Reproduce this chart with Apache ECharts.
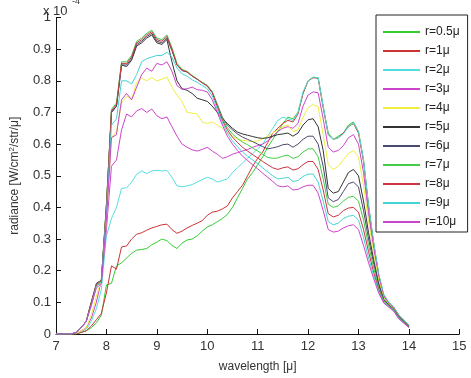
<!DOCTYPE html>
<html><head><meta charset="utf-8">
<script src="https://cdn.jsdelivr.net/npm/echarts@6/dist/echarts.min.js"></script>
<style>html,body{margin:0;padding:0;background:#fff}#c{width:471px;height:378px}</style>
</head><body><div id="c"></div>
<script>
const wavelength = [7.0,7.1,7.2,7.3,7.4,7.5,7.6,7.7,7.8,7.9,8.0,8.1,8.2,8.3,8.4,8.5,8.6,8.7,8.8,8.9,9.0,9.1,9.2,9.3,9.4,9.5,9.6,9.7,9.8,9.9,10.0,10.1,10.2,10.3,10.4,10.5,10.6,10.7,10.8,10.9,11.0,11.1,11.2,11.3,11.4,11.5,11.6,11.7,11.8,11.9,12.0,12.1,12.2,12.3,12.4,12.5,12.6,12.7,12.8,12.9,13.0,13.1,13.2,13.3,13.4,13.5,13.6,13.7,13.8,13.9,14.0];
const seriesNames = ['r=0.5\u03bc','r=1\u03bc','r=2\u03bc','r=3\u03bc','r=4\u03bc','r=5\u03bc','r=6\u03bc','r=7\u03bc','r=8\u03bc','r=9\u03bc','r=10\u03bc'];
const r05 = [0,0,0,0,0,0.005,0.01,0.02,0.035,0.06, 0.155,0.16,0.215,0.225,0.24,0.255,0.265,0.267,0.27,0.282, 0.29,0.30,0.295,0.28,0.27,0.287,0.297,0.30,0.31,0.325, 0.338,0.345,0.355,0.365,0.378,0.40,0.43,0.46,0.49,0.51, 0.535,0.56,0.59,0.615,0.64,0.665,0.685,0.68,0.70,0.76, 0.80,0.81,0.81,0.72,0.635,0.615,0.625,0.635,0.66,0.67, 0.64,0.55,0.41,0.29,0.19,0.125,0.10,0.085,0.06,0.045,0.028];
const r1 = [0,0,0,0,0,0.005,0.01,0.025,0.045,0.065, 0.13,0.215,0.205,0.275,0.278,0.30,0.315,0.32,0.328,0.335, 0.34,0.345,0.347,0.33,0.318,0.325,0.335,0.343,0.35,0.358, 0.375,0.385,0.388,0.395,0.405,0.43,0.45,0.47,0.50,0.53, 0.555,0.575,0.605,0.635,0.65,0.665,0.675,0.67,0.695,0.76, 0.80,0.81,0.808,0.715,0.63,0.615,0.62,0.635,0.655,0.665, 0.635,0.545,0.40,0.285,0.185,0.12,0.095,0.08,0.058,0.042,0.026];
const r2 = [0,0,0,0,0.003,0.008,0.015,0.04,0.08,0.14, 0.31,0.365,0.40,0.46,0.462,0.48,0.505,0.515,0.507,0.515, 0.517,0.515,0.517,0.495,0.468,0.465,0.468,0.472,0.48,0.488, 0.495,0.49,0.48,0.485,0.49,0.51,0.525,0.54,0.555,0.57, 0.585,0.60,0.625,0.65,0.675,0.685,0.68,0.675,0.70,0.765, 0.80,0.812,0.81,0.72,0.63,0.615,0.62,0.632,0.655,0.667, 0.64,0.55,0.405,0.29,0.19,0.125,0.10,0.085,0.06,0.045,0.028];
const r3 = [0,0,0,0,0.003,0.01,0.02,0.05,0.10,0.17, 0.33,0.53,0.55,0.645,0.695,0.686,0.705,0.712,0.70,0.711, 0.69,0.68,0.686,0.655,0.625,0.60,0.59,0.582,0.578,0.583, 0.59,0.578,0.568,0.555,0.56,0.568,0.573,0.578,0.583,0.59, 0.595,0.60,0.61,0.625,0.64,0.65,0.655,0.65,0.665,0.72, 0.755,0.765,0.762,0.68,0.59,0.575,0.58,0.595,0.62,0.63, 0.60,0.51,0.38,0.27,0.18,0.12,0.097,0.083,0.058,0.042,0.026];
const r4 = [0,0,0,0,0.003,0.01,0.02,0.06,0.12,0.17, 0.36,0.62,0.64,0.73,0.752,0.74,0.795,0.808,0.80,0.81, 0.80,0.805,0.812,0.78,0.755,0.735,0.70,0.698,0.695,0.67, 0.665,0.67,0.66,0.65,0.636,0.625,0.615,0.612,0.61,0.608, 0.61,0.617,0.625,0.635,0.645,0.655,0.66,0.64,0.645,0.685, 0.715,0.725,0.718,0.63,0.535,0.52,0.53,0.55,0.57,0.58, 0.56,0.47,0.355,0.255,0.17,0.115,0.095,0.08,0.056,0.04,0.025];
const r5 = [0,0,0,0,0.005,0.02,0.04,0.10,0.16,0.17, 0.40,0.70,0.72,0.85,0.845,0.865,0.91,0.92,0.935,0.945, 0.92,0.915,0.93,0.86,0.80,0.775,0.77,0.76,0.745,0.74, 0.735,0.72,0.70,0.68,0.665,0.65,0.638,0.632,0.628,0.624, 0.62,0.618,0.62,0.625,0.63,0.632,0.635,0.625,0.635,0.66, 0.677,0.68,0.655,0.58,0.46,0.445,0.45,0.48,0.51,0.52, 0.50,0.42,0.32,0.235,0.16,0.11,0.093,0.078,0.055,0.04,0.024];
const r6 = [0,0,0,0,0.005,0.02,0.04,0.10,0.155,0.17, 0.41,0.70,0.72,0.85,0.85,0.87,0.915,0.925,0.94,0.95, 0.925,0.92,0.935,0.895,0.85,0.832,0.828,0.815,0.805,0.795, 0.785,0.765,0.725,0.685,0.66,0.645,0.632,0.622,0.615,0.608, 0.60,0.592,0.585,0.588,0.592,0.598,0.60,0.59,0.60,0.615, 0.625,0.625,0.60,0.53,0.43,0.418,0.425,0.45,0.475,0.48, 0.465,0.39,0.30,0.225,0.155,0.108,0.092,0.077,0.054,0.038,0.023];
const r7 = [0,0,0,0,0.005,0.02,0.04,0.10,0.155,0.17, 0.41,0.71,0.73,0.86,0.86,0.88,0.925,0.935,0.95,0.96, 0.935,0.93,0.945,0.905,0.855,0.836,0.83,0.817,0.806,0.795, 0.785,0.765,0.722,0.68,0.652,0.632,0.618,0.606,0.598,0.588, 0.578,0.568,0.558,0.555,0.556,0.562,0.565,0.555,0.56,0.575, 0.585,0.585,0.56,0.49,0.41,0.40,0.405,0.42,0.432,0.435, 0.42,0.36,0.28,0.21,0.145,0.105,0.09,0.076,0.052,0.037,0.022];
const r8 = [0,0,0,0,0.005,0.02,0.04,0.10,0.155,0.17, 0.40,0.705,0.725,0.855,0.855,0.875,0.92,0.93,0.945,0.955, 0.93,0.925,0.94,0.90,0.85,0.834,0.828,0.815,0.805,0.793, 0.783,0.762,0.718,0.675,0.645,0.622,0.605,0.59,0.578,0.567, 0.556,0.545,0.535,0.525,0.52,0.525,0.528,0.518,0.522,0.535, 0.545,0.545,0.52,0.455,0.38,0.37,0.375,0.39,0.398,0.40, 0.385,0.33,0.26,0.195,0.14,0.10,0.088,0.074,0.05,0.036,0.021];
const r9 = [0,0,0,0,0.005,0.02,0.04,0.09,0.15,0.165, 0.38,0.66,0.68,0.80,0.80,0.79,0.82,0.86,0.87,0.875, 0.88,0.88,0.89,0.875,0.84,0.822,0.815,0.803,0.795,0.785, 0.775,0.752,0.71,0.668,0.635,0.61,0.592,0.575,0.562,0.55, 0.538,0.525,0.512,0.50,0.49,0.492,0.495,0.482,0.485,0.498, 0.505,0.505,0.48,0.42,0.355,0.345,0.35,0.365,0.372,0.375, 0.36,0.305,0.24,0.185,0.135,0.10,0.087,0.073,0.05,0.035,0.02];
const r10 = [0,0,0,0,0.005,0.02,0.04,0.09,0.145,0.16, 0.36,0.62,0.63,0.74,0.76,0.74,0.78,0.82,0.84,0.83, 0.855,0.85,0.86,0.83,0.785,0.773,0.775,0.78,0.772,0.77, 0.765,0.74,0.70,0.66,0.625,0.60,0.58,0.562,0.548,0.535, 0.522,0.508,0.495,0.482,0.468,0.465,0.468,0.455,0.457,0.465, 0.47,0.47,0.445,0.39,0.33,0.322,0.325,0.335,0.342,0.345, 0.33,0.28,0.225,0.175,0.13,0.098,0.085,0.072,0.048,0.034,0.02];
const allValues = [r05,r1,r2,r3,r4,r5,r6,r7,r8,r9,r10];
const colors = ['#33cc33','#cc3333','#55dddd','#cc44cc','#eeee44','#333333','#4a4a6e','#44cc44','#cc3344','#44d4d4','#cc44cc'];
const xTicks = [7,8,9,10,11,12,13,14,15];
const yTicks = [0,0.1,0.2,0.3,0.4,0.5,0.6,0.7,0.8,0.9,1];

const chart = echarts.init(document.getElementById('c'), null, {renderer:'canvas'});
const FONT = 'Liberation Sans, Arial, sans-serif';
const series = allValues.map((vals,i)=>({
  name: seriesNames[i], type:'line', symbol:'none', showSymbol:false, animation:false,
  data: vals.map((v,j)=>[wavelength[j], v]),
  lineStyle:{width:1, color:colors[i]}, itemStyle:{color:colors[i]}
}));
chart.setOption({
  animation:false,
  backgroundColor:'#fff',
  grid:{left:44.7, right:11.7, top:17.5, bottom:34.5, containLabel:false},
  xAxis:{type:'value', min:7, max:15, interval:1,
    name:'wavelength [\u03bc]', nameLocation:'middle', nameGap:27,
    nameTextStyle:{fontFamily:FONT, fontSize:12, color:'#333'},
    axisLine:{lineStyle:{color:'#111', width:1}},
    axisTick:{inside:true, length:5, lineStyle:{color:'#111'}},
    axisLabel:{fontFamily:FONT, fontSize:13, color:'#333', margin:6},
    splitLine:{show:false}},
  yAxis:{type:'value', min:0, max:1, interval:0.1,
    name:'radiance [W/cm{sup|2}/str/\u03bc]', nameLocation:'middle', nameGap:34,
    nameTextStyle:{fontFamily:FONT, fontSize:12, color:'#333', rich:{sup:{fontSize:8, verticalAlign:'bottom', padding:[0,0,6,0], fontFamily:FONT, color:'#333'}}},
    axisLine:{show:true, lineStyle:{color:'#111', width:1}},
    axisTick:{show:true, inside:true, length:5, lineStyle:{color:'#111'}},
    axisLabel:{fontFamily:FONT, fontSize:13, color:'#333', margin:5,
      formatter:v=>{const r=Math.round(v*10)/10; return r===0?'0':(r===1?'1':r.toFixed(1));}},
    splitLine:{show:false}},
  legend:{orient:'vertical', left:376, top:15, padding:[10,8,3,7], itemGap:5,
    itemWidth:37, itemHeight:2, icon:'rect',
    backgroundColor:'#fff', borderColor:'#222', borderWidth:1,
    textStyle:{fontFamily:FONT, fontSize:12, color:'#222', lineHeight:14},
    data:seriesNames},
  graphic:[
    {type:'text', left:43, top:5, style:{text:'x 10', font:'13px '+FONT, fill:'#333'}},
    {type:'text', left:72, top:-3, style:{text:'-4', font:'9px '+FONT, fill:'#333'}}
  ],
  series: series
});
</script></body></html>
